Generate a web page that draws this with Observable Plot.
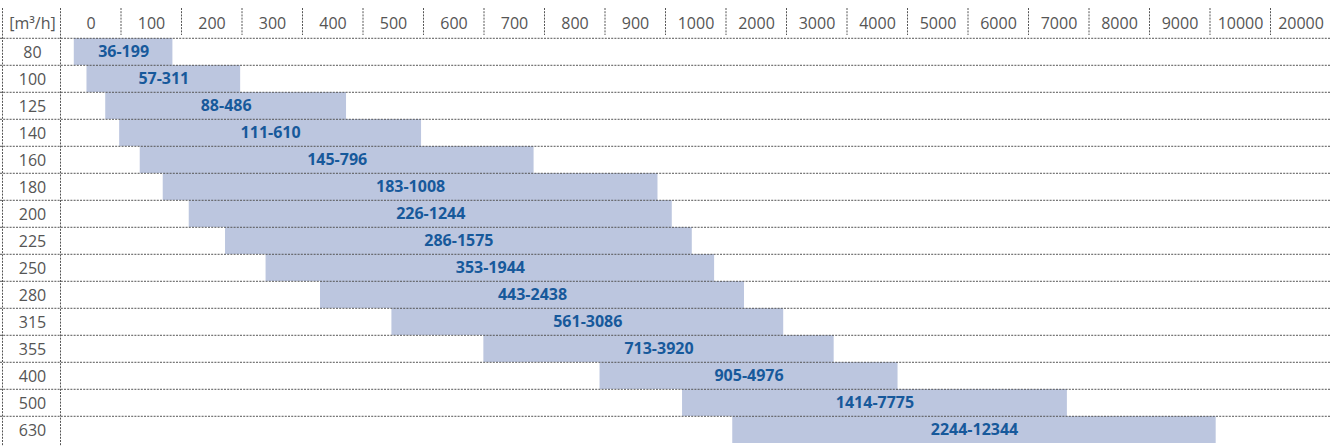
<!DOCTYPE html>
<html>
<head>
<meta charset="utf-8">
<script src="https://cdn.jsdelivr.net/npm/d3@7"></script>
<script src="https://cdn.jsdelivr.net/npm/@observablehq/plot@0.6"></script>
<style>
  html, body { margin: 0; padding: 0; background: #fff; }
  #chart svg { display: block; }
</style>
</head>
<body>
<div id="chart"></div>
<script>
const sizes = ["80","100","125","140","160","180","200","225","250","280","315","355","400","500","630"];
const qMin = [36, 57, 88, 111, 145, 183, 226, 286, 353, 443, 561, 713, 905, 1414, 2244];
const qMax = [199, 311, 486, 610, 796, 1008, 1244, 1575, 1944, 2438, 3086, 3920, 4976, 7775, 12344];
const xTicks = [0,100,200,300,400,500,600,700,800,900,1000,2000,3000,4000,5000,6000,7000,8000,9000,10000,20000];
const unitLabel = "[m³/h]";

const W = 1331, H = 446, headerH = 35;
const cell = 60.5, x0 = 52;
const xRange = xTicks.map((d, i) => x0 + cell * i);
const rowH = (H + 0.4 - headerH) / sizes.length;

const data = sizes.map((s, i) => ({size: s, lo: qMin[i], hi: qMax[i], label: `${qMin[i]}-${qMax[i]}`}));

const xs = Plot.scale({x: {type: "linear", domain: xTicks, range: xRange}});
const mid = d => xs.invert((xs.apply(d.lo) + xs.apply(d.hi)) / 2);

const grid = {stroke: "#555", strokeWidth: 1, strokeDasharray: "2,1.2"};
const font = "'Open Sans', 'Noto Sans', sans-serif";

const chart = Plot.plot({
  width: W,
  height: H,
  marginTop: headerH,
  marginLeft: 0,
  marginRight: 0,
  marginBottom: 0,
  style: {fontFamily: font, fontSize: "15px", background: "#fff"},
  x: {type: "linear", domain: xTicks, range: xRange, axis: null},
  y: {type: "band", domain: sizes, range: [headerH, H + 0.4], padding: 0, axis: null},
  marks: [
    Plot.barX(data, {x1: "lo", x2: "hi", y: "size", fill: "#bcc6df"}),
    Plot.ruleY(sizes, {y: d => d, dy: -rowH / 2, ...grid}),
    Plot.ruleX(xTicks.slice(1), {x: d => d, dx: 8, insetTop: -27, insetBottom: H - headerH, ...grid}),
    Plot.ruleX([xTicks[0]], {x: d => d, dx: 8, insetTop: -27, ...grid}),
    Plot.ruleX([xTicks[0]], {x: d => d, dx: -50, insetTop: -27, ...grid}),
    Plot.text(xTicks, {x: d => d, text: d => String(d), frameAnchor: "top", dx: 38.5, dy: -18, fill: "#555", fontSize: 16}),
    Plot.text([unitLabel], {frameAnchor: "top-left", text: d => d, dx: 32, dy: -18, textAnchor: "middle", fill: "#555", fontSize: 16}),
    Plot.text(sizes, {y: d => d, text: d => d, frameAnchor: "left", dx: 32, dy: 0.5, textAnchor: "middle", fill: "#555", fontSize: 16}),
    Plot.text(data, {x: mid, y: "size", text: "label", fill: "#17599b", fontWeight: "bold", fontSize: 16})
  ]
});
document.getElementById("chart").appendChild(chart);
</script>
</body>
</html>
